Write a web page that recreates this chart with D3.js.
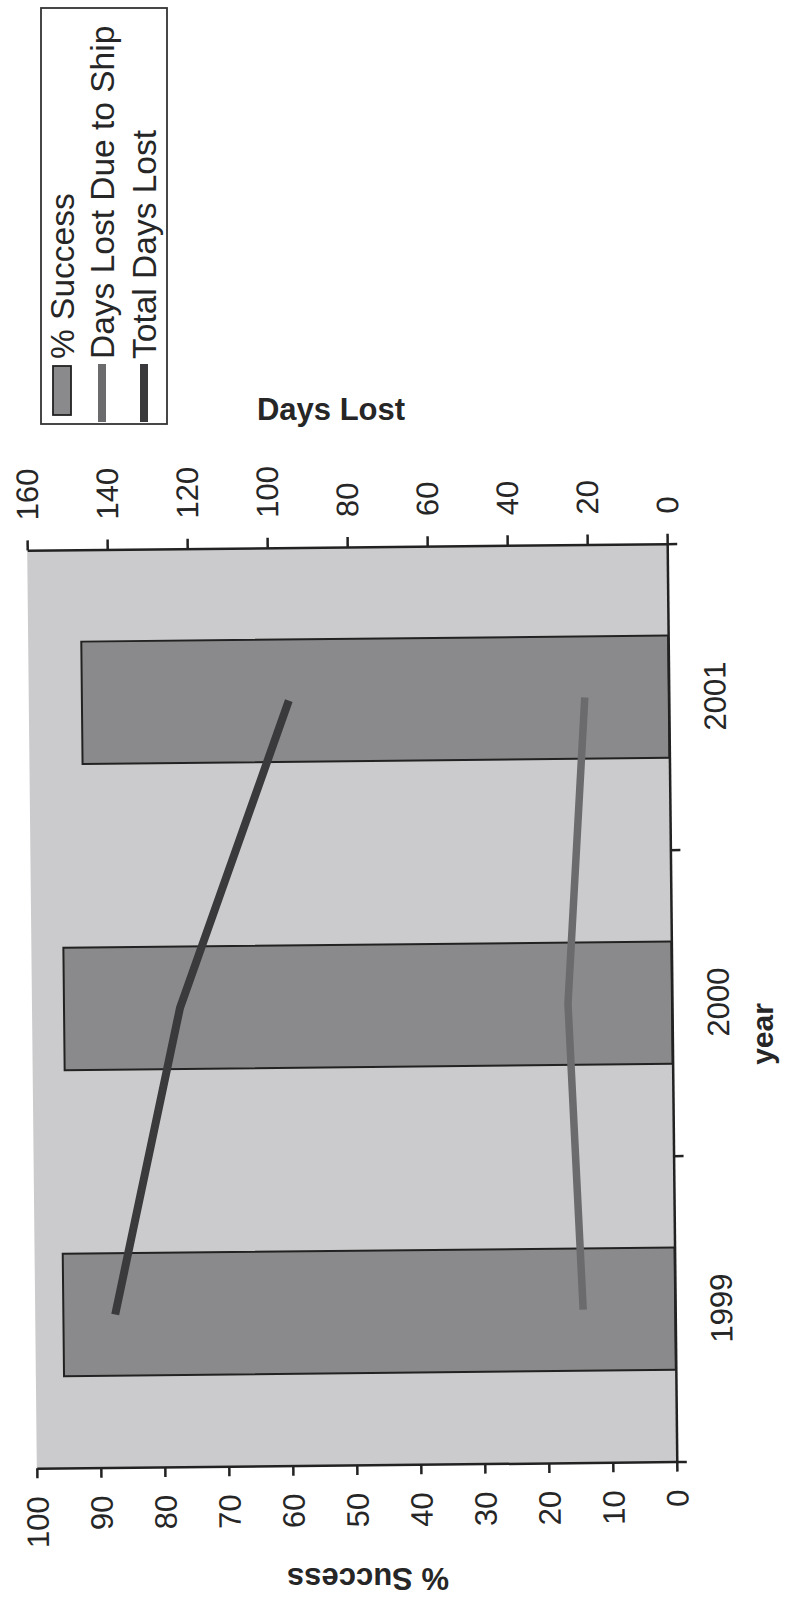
<!DOCTYPE html>
<html>
<head>
<meta charset="utf-8">
<script src="https://cdn.jsdelivr.net/npm/d3@7"></script>
<style>
  html, body { margin: 0; padding: 0; background: #ffffff; }
  svg { display: block; }
  text { font-family: "Liberation Sans", Arial, Helvetica, sans-serif; fill: #262626; }
</style>
</head>
<body>
<svg id="chart" width="791" height="1603"></svg>
<script>
// Chart data
const years = ["1999", "2000", "2001"];
const successPct = [95.6, 95, 91.7];
const daysLostShip = [23, 26, 21];
const totalDaysLost = [140, 123, 95];
const successTicks = [0, 10, 20, 30, 40, 50, 60, 70, 80, 90, 100];
const daysTicks = [0, 20, 40, 60, 80, 100, 120, 140, 160];
const legendLabels = ["% Success", "Days Lost Due to Ship", "Total Days Lost"];

// Layout (the chart is laid out sideways: years run up the right edge)
const L = 32, R = 672, T = 547, B = 1465;
const cx = (L + R) / 2, cy = (T + B) / 2;
const tilt = -0.6;

const colBg = "#cbcbcd", colBar = "#8a8a8c", colEdge = "#222222";
const colShip = "#6b6b6d", colTotal = "#3a3a3c";
const fontSize = 31;

const svg = d3.select("#chart");

const xPct = d3.scaleLinear().domain([0, 100]).range([R, L]);
const xDays = d3.scaleLinear().domain([0, 160]).range([R, L]);
const yYear = d3.scaleBand().domain(years).range([B, T]).paddingInner(0.6).paddingOuter(0.3);
const yBound = d3.scaleLinear().domain([0, years.length]).range([B, T]);

const plot = svg.append("g").attr("transform", `rotate(${tilt},${cx},${cy})`);

// plot area
plot.append("rect")
  .attr("x", L).attr("y", T)
  .attr("width", R - L).attr("height", B - T)
  .attr("fill", colBg);

// % Success bars
plot.append("g").selectAll("rect")
  .data(years.map((y, i) => ({ year: y, v: successPct[i] })))
  .join("rect")
  .attr("x", d => xPct(d.v))
  .attr("y", d => yYear(d.year))
  .attr("width", d => xPct(0) - xPct(d.v))
  .attr("height", yYear.bandwidth())
  .attr("fill", colBar)
  .attr("stroke", colEdge)
  .attr("stroke-width", 2);

// day-lost lines
const line = d3.line()
  .x(d => xDays(d.v))
  .y(d => yYear(d.year) + yYear.bandwidth() / 2);

const series = [
  { values: daysLostShip, color: colShip, width: 7.5 },
  { values: totalDaysLost, color: colTotal, width: 8 }
];
plot.append("g").selectAll("path")
  .data(series)
  .join("path")
  .attr("d", s => line(years.map((y, i) => ({ year: y, v: s.values[i] }))))
  .attr("fill", "none")
  .attr("stroke", s => s.color)
  .attr("stroke-width", s => s.width)
  .attr("stroke-linejoin", "round");

function styleAxis(g) {
  g.select(".domain").attr("stroke", colEdge).attr("stroke-width", 2.5);
  g.selectAll(".tick line").attr("stroke", colEdge).attr("stroke-width", 2.5);
  g.selectAll(".tick text").attr("font-size", fontSize).attr("fill", "#262626")
    .style("font-family", '"Liberation Sans", Arial, sans-serif');
}

// % Success axis (bottom)
plot.append("g")
  .attr("transform", `translate(0,${B})`)
  .call(d3.axisBottom(xPct).tickValues(successTicks).tickSize(10).tickSizeOuter(0).tickFormat(d3.format("d")))
  .call(styleAxis)
  .call(g => g.selectAll(".tick text")
    .attr("transform", "rotate(-90)")
    .attr("text-anchor", "end")
    .attr("x", -28).attr("y", 0).attr("dy", "0.35em"));

// Days Lost axis (top)
plot.append("g")
  .attr("transform", `translate(0,${T})`)
  .call(d3.axisTop(xDays).tickValues(daysTicks).tickSize(10).tickSizeOuter(0).tickFormat(d3.format("d")))
  .call(styleAxis)
  .call(g => g.selectAll(".tick text")
    .attr("transform", "rotate(-90)")
    .attr("text-anchor", "start")
    .attr("x", 30).attr("y", 0).attr("dy", "0.35em"));

// year axis (right): boundary ticks
plot.append("g")
  .attr("transform", `translate(${R},0)`)
  .call(d3.axisRight(yBound).tickValues(d3.range(years.length + 1)).tickSize(10).tickSizeOuter(0).tickFormat(""))
  .call(styleAxis);

// year labels
plot.append("g")
  .attr("transform", `translate(${R},0)`)
  .call(d3.axisRight(yYear).tickSize(0))
  .call(g => g.select(".domain").remove())
  .call(styleAxis)
  .call(g => g.selectAll(".tick text")
    .attr("transform", "rotate(-90)")
    .attr("text-anchor", "middle")
    .attr("x", 0).attr("y", 46).attr("dy", "0.35em"));

// axis titles
svg.append("text")
  .attr("x", 331).attr("y", 420)
  .attr("text-anchor", "middle")
  .attr("font-size", fontSize).attr("font-weight", "bold")
  .text("Days Lost");

svg.append("text")
  .attr("transform", "translate(368,1579) rotate(180)")
  .attr("text-anchor", "middle").attr("dy", "0.35em")
  .attr("font-size", fontSize).attr("font-weight", "bold")
  .text("% Success");

svg.append("text")
  .attr("transform", "translate(762,1034) rotate(-90)")
  .attr("text-anchor", "middle").attr("dy", "0.35em")
  .attr("font-size", 30).attr("font-weight", "bold")
  .text("year");

// legend
const legend = svg.append("g");
legend.append("rect")
  .attr("x", 41).attr("y", 8).attr("width", 126).attr("height", 416)
  .attr("fill", "#ffffff").attr("stroke", "#333333").attr("stroke-width", 1.8);

const legendCols = [62, 102, 144];
legendLabels.forEach((label, i) => {
  const x = legendCols[i];
  if (i === 0) {
    legend.append("rect")
      .attr("x", x - 9).attr("y", 366).attr("width", 18).attr("height", 49)
      .attr("fill", colBar).attr("stroke", colEdge).attr("stroke-width", 1.8);
  } else {
    legend.append("line")
      .attr("x1", x).attr("x2", x).attr("y1", 364).attr("y2", 422)
      .attr("stroke", i === 1 ? colShip : colTotal).attr("stroke-width", 8);
  }
  legend.append("text")
    .attr("transform", `translate(${x},359) rotate(-90)`)
    .attr("text-anchor", "start").attr("dy", "0.35em")
    .attr("font-size", 33.5)
    .text(label);
});
</script>
</body>
</html>
